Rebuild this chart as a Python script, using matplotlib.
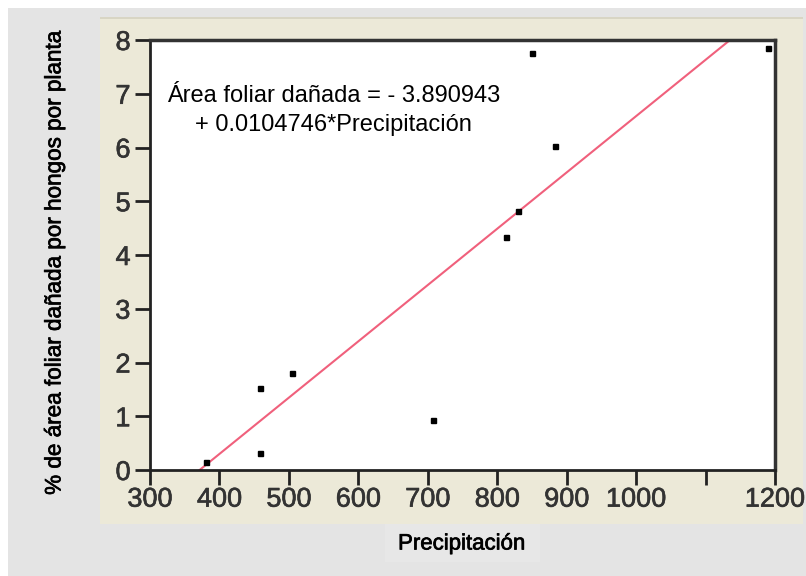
import numpy as np
import matplotlib
matplotlib.use("Agg")
import matplotlib.pyplot as plt
import matplotlib.patheffects as pe
from matplotlib.patches import Rectangle

plt.rcParams['font.family'] = ['Liberation Sans', 'DejaVu Sans']

# data
precip = [381, 459, 459, 505, 707, 812, 830, 850, 883, 1190]
dano = [0.15, 1.53, 0.32, 1.80, 0.93, 4.33, 4.82, 7.76, 6.03, 7.85]
intercept = -3.890943
slope = 0.0104746

xticks = [300, 400, 500, 600, 700, 800, 900, 1000, 1100, 1200]
xticklabels = ['300', '400', '500', '600', '700', '800', '900', '1000', '', '1200']
yticks = [0, 1, 2, 3, 4, 5, 6, 7, 8]

W, H = 806, 576
fig = plt.figure(figsize=(W / 100, H / 100), dpi=100)
fig.patch.set_facecolor('white')

def px_rect(x0, y0, x1, y1, color):
    fig.patches.append(Rectangle((x0 / W, 1 - y1 / H), (x1 - x0) / W, (y1 - y0) / H,
                                 transform=fig.transFigure, facecolor=color,
                                 edgecolor='none', zorder=0))

# gray window, beige panel, label boxes
px_rect(8, 8, 806, 576, '#e4e4e4')
px_rect(100, 17, 803, 524, '#ece9d8')
px_rect(100, 17, 803, 19, '#d8d5c4')
px_rect(385, 524, 540, 562, '#e7e7e7')

ax = fig.add_axes([150 / W, 1 - 470 / H, 625 / W, 430 / H])
ax.set_zorder(2)
ax.set_facecolor('white')

xl = np.array([-intercept / slope, (8 - intercept) / slope])
ax.plot(xl, intercept + slope * xl, color='#f0607c', lw=1.5, zorder=2)
ax.plot(precip, dano, 's', color='black', ms=3.6, zorder=3)

ax.set_xlim(300, 1200)
ax.set_ylim(0, 8)
ax.set_xticks(xticks)
ax.set_xticklabels(xticklabels)
ax.set_yticks(yticks)
ax.tick_params(direction='out', length=11, width=2, color='#222222',
               labelsize=19.5, labelcolor='#333333')
ax.tick_params(axis='x', pad=1)
ax.tick_params(axis='y', pad=3)
thick = [pe.withStroke(linewidth=0.45, foreground='#333333')]
for lab in ax.get_xticklabels() + ax.get_yticklabels():
    lab.set_path_effects(thick)

for s in ['left', 'bottom']:
    ax.spines[s].set_linewidth(2)
    ax.spines[s].set_color('#222222')
for s in ['top', 'right']:
    ax.spines[s].set_linewidth(2.5)
    ax.spines[s].set_color('#333333')

fig.text(167 / W, 1 - 96 / H, 'Área foliar dañada = - 3.890943', fontsize=17,
         ha='left', va='center', color='black', zorder=5)
fig.text(195 / W, 1 - 125 / H, '+ 0.0104746*Precipitación', fontsize=17,
         ha='left', va='center', color='black', zorder=5)

lab_fx = [pe.withStroke(linewidth=0.5, foreground='black')]
fig.text(55 / W, 1 - 262 / H, '% de área foliar dañada por hongos por planta',
         rotation=90, fontsize=16.2, ha='center', va='center', color='black',
         path_effects=lab_fx)
fig.text(462 / W, 1 - 544 / H, 'Precipitación', fontsize=16,
         ha='center', va='center', color='black', path_effects=lab_fx)

fig.savefig('out.png', dpi=100)
